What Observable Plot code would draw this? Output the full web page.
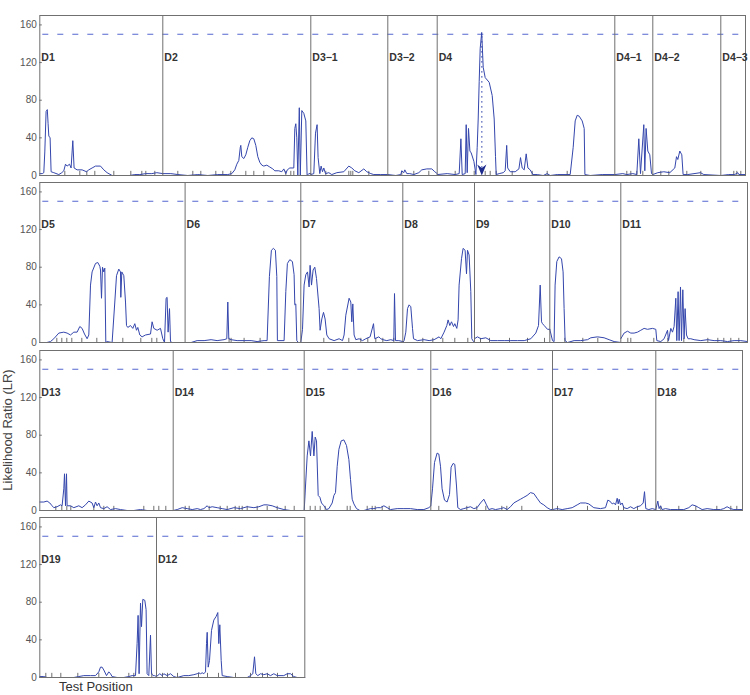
<!DOCTYPE html>
<html><head><meta charset="utf-8">
<script src="https://cdn.jsdelivr.net/npm/d3@7"></script>
<script src="https://cdn.jsdelivr.net/npm/@observablehq/plot@0.6"></script>
<style>
body{margin:0;background:#fff;font-family:"Liberation Sans",Arial,sans-serif;}
#wrap{position:relative;width:750px;height:695px;overflow:hidden;background:#fff;}
.row{position:absolute;left:0;}
.row svg{overflow:visible;}
#ylab{position:absolute;left:-92px;top:423px;width:200px;text-align:center;font-size:13px;line-height:14px;color:#444;transform:rotate(-90deg);transform-origin:100px 7px;}
#xlab{position:absolute;left:59px;top:680px;font-size:13px;line-height:14px;color:#333;}
</style></head><body>
<div id="wrap"><div id="ylab">Likelihood Ratio (LR)</div><div id="xlab">Test Position</div></div>
<script>
// ---------- DATA ----------
const yTicks = [0, 40, 80, 120, 160];
const threshold = 150;

const rowNames = [
  ["D1","D2","D3\u22121","D3\u22122","D4","D4\u22121","D4\u22122","D4\u22123"],
  ["D5","D6","D7","D8","D9","D10","D11"],
  ["D13","D14","D15","D16","D17","D18"],
  ["D19","D12"]
];
// chromosome lengths (test-position units)
const rowLengths = [
  [123,148,77,49.4,177.6,38,68,24.7],
  [145.3,115.7,102,71.7,75.3,71,126.7],
  [133.4,131,126.6,121.7,103.3,86.7],
  [116.7,148.3]
];

// LR profiles: [position within chromosome, LR]
const D1 = [[0,2],[2.5,2],[4,3],[5,25],[6.3,68],[7.5,70],[8.3,55],[9,42],[10.3,40],[11.3,4],[14,3],[19,1],[22,3],[24,5],[25.7,12],[27.3,10],[29.7,12],[31.3,8],[33,37],[34.3,8],[37.3,6],[42.3,6],[46.7,4],[49,6],[52.3,8],[55.7,10],[60.7,10],[64,6],[67.3,3],[72.3,0],[80,0],[90,0],[95,1],[100,1],[106,2],[112,2],[117,3],[123,2]];
const D2 = [[0,2],[8,2],[15,1],[25,0],[35,1],[45,0],[55,1],[65,1],[69,2],[72,6],[74,12],[76,16],[77.5,30],[78,32],[79,20],[81,18],[83,22],[85,30],[87,37],[89,40],[91,39],[93,32],[95,20],[97,14],[99,11],[101,10],[104,11],[107,9],[110,7],[112,5],[116,5],[119,4],[121,7],[123,2],[124.5,6],[127,8],[131,8],[132,50],[133,55],[134,40],[135,0],[136.5,72],[137.5,0],[139,69],[141,66],[143,58],[144.3,0],[146,2],[148,2]];
const D3_1 = [[0,1],[3,2],[4.7,45],[6.3,54],[7.3,19],[9,2],[10.3,10],[11.7,4],[13,8],[14.7,2],[18,3],[21,1],[26,3],[33,4],[38,10],[41,8],[44,5],[48,3],[53,7],[56,4],[60,2],[63,1],[70,1],[77,1]];
const D3_2 = [[0,1],[8,0],[13,1],[14,5],[16,3],[17,6],[19,2],[22,2],[26,1],[31,3],[34,6],[39,7],[44,7],[47,4],[49.4,2]];
const D4 = [[0,1],[10,2],[18,1],[22,2],[23.7,39],[25,1],[28,2],[29,54],[30,3],[31.3,50],[32.7,26],[34,24],[36.7,15],[38.7,1],[40,30],[41,60],[42,100],[43,135],[44.5,152],[46,115],[48,104],[52,99],[55,85],[57,60],[58.3,20],[59,1],[62,2],[66,3],[68,5],[69.5,32],[70.5,8],[73,4],[78,4],[81.7,7],[83.3,19],[85,8],[87,6],[89,23],[90.7,8],[93,6],[95.7,1],[100,1],[106,0],[110,2],[113,0],[120,1],[133,1],[136,30],[138,58],[140,64],[142,63],[145,58],[147,50],[147.7,1],[153,0],[165,1],[177.6,1]];
const D4_1 = [[0,1],[8,2],[12,1],[18,2],[22,1],[24,39],[25.7,2],[29,54],[30,5],[31.3,50],[33,26],[35,22],[36.7,2],[38,1]];
const D4_2 = [[0,1],[5,3],[11,4],[17,3],[22,8],[23.7,20],[25,17],[27,26],[29,22],[30.3,1],[35,1],[47.7,3],[51,1],[68,0]];
const D4_3 = [[0,0],[8,1],[14,1],[17,3],[18,1],[24.7,1]];

const D5 = [[0,0],[7,0],[10.7,1],[14,4],[19,10],[24,11],[27.3,10],[30.7,8],[34,11],[37.3,11],[40,17],[42.3,15],[44.7,9],[47.3,4],[49,8],[50.7,61],[52.3,75],[55.7,84],[58,85],[60,81],[60.7,77],[61.7,47],[62.7,80],[64,75],[65,79],[66,0],[67.3,1],[72.3,0],[75,43],[76.7,71],[79,78],[80.7,75],[81,48],[82,75],[84,71],[85.7,43],[86.7,18],[88,16],[90.7,18],[93,15],[95,20],[96.7,13],[98,16],[100,8],[102.3,6],[105.7,8],[110.7,9],[112.3,22],[114,15],[117.3,13],[120.7,15],[123,4],[124.7,0],[126.3,47],[127.3,48],[128.3,11],[129.7,36],[130.7,1],[132.3,0],[145.3,0]];
const D6 = [[0,0],[6,0],[12,2],[19,2],[26,3],[32,2],[39,3],[41.7,4],[42.7,43],[43.7,4],[46,3],[52,2],[59,2],[66,2],[72,1],[79,2],[82,2],[84.3,70],[86.3,98],[88.3,100],[90.3,98],[91.7,70],[92.3,2],[99,2],[100.7,54],[102.3,84],[104.7,88],[107.3,86],[109,72],[109.7,40],[110.7,41],[111.7,2],[113.3,0],[115.7,0]];
const D7 = [[0,0],[1.7,14],[3.3,61],[5,72],[6.7,75],[8.3,59],[9.3,82],[10.7,61],[12.3,77],[14,80],[15.7,68],[18.3,36],[19.3,13],[21,25],[22.7,32],[24.3,25],[26,8],[28.3,4],[33.3,2],[38.3,4],[41.7,2],[43.3,8],[45,29],[48.3,47],[50,43],[51,22],[52,41],[53.3,8],[55,3],[58.3,4],[61.7,2],[65,4],[69.3,6],[72.7,20],[74,4],[78,6],[80,4],[82,3],[86,2],[90,3],[93,2],[93.7,52],[94.7,2],[98,2],[102,1]];
const D8 = [[0,0],[1.3,2],[3,11],[4.7,36],[6.3,40],[8,38],[9.7,15],[10.7,4],[14.7,2],[21.3,3],[26.3,2],[31.3,3],[36.3,6],[38,4],[41.3,11],[44,18],[45.3,24],[47,18],[48.7,22],[50.7,17],[52,20],[54,15],[55.3,24],[56.3,61],[58.7,89],[60.3,100],[62.3,98],[63.7,73],[64.7,98],[66.3,93],[68,54],[69,4],[70.7,1],[71.7,0]];
const D9 = [[0,4],[3,6],[6.3,4],[11.3,5],[16.3,2],[23,2],[29.7,2],[36.3,2],[43,2],[49.7,2],[56.3,4],[61.3,10],[64,18],[65.7,61],[67,22],[68,20],[69.7,18],[73,14],[75.3,14]];
const D10 = [[0,14],[2.7,2],[4.3,1],[5.3,61],[7,86],[9.3,91],[11.7,89],[13.3,75],[14.3,36],[15.3,2],[17.7,0],[24.3,2],[31,2],[37.7,3],[41,5],[47.7,6],[54.3,5],[59.3,3],[64.3,1],[71,0]];
const D11 = [[0,4],[3.3,10],[6.7,12],[10,10],[13.3,10],[16.7,11],[20,13],[23.3,15],[26.7,14],[31.7,15],[35,14],[36,2],[40,1],[43.3,4],[46.7,13],[47.7,2],[50,15],[51.7,11],[53.3,17],[55,47],[56,2],[57.3,54],[58.3,2],[59.7,59],[60.7,2],[62,56],[63.3,4],[64.3,36],[65.7,8],[67.3,4],[70,4],[73.3,3],[80,2],[86.7,3],[93.3,2],[100,2],[106.7,1],[113.3,2],[120,2],[126.7,1]];

const D13 = [[0,9],[4,9],[7.3,10],[10,8],[12.3,5],[14,3],[17.3,4],[20.7,6],[22.3,5],[24,23],[24.7,39],[25.7,5],[26.7,39],[27.3,5],[30.7,5],[34,3],[39,5],[42.3,3],[45.7,6],[49,10],[52.3,8],[54,3],[55.7,9],[57.3,5],[59,8],[60.7,3],[64,2],[67.3,4],[70.7,1],[75.7,2],[80.7,1],[87.3,0],[94,0],[100.7,1],[107.3,0],[120.7,0],[133.4,0]];
const D14 = [[0,0],[4,1],[9,3],[14,2],[19,1],[24,2],[27.3,1],[30.7,2],[34,5],[35.7,3],[39,4],[44,3],[49,2],[54,1],[60.7,3],[67.3,2],[74,4],[80.7,3],[85.7,4],[90.7,6],[94,6],[99,5],[104,3],[110.7,1],[117.3,0],[122.3,0],[131,0]];
const D15 = [[0,0],[1.3,26],[3,58],[4.7,74],[6.3,58],[8,84],[9.7,58],[11,78],[12.3,74],[14,16],[15.7,14],[17.3,8],[19.7,5],[22.3,1],[24.7,2],[28,8],[29.7,16],[31.3,19],[33,47],[34.7,65],[37,74],[39.7,75],[42.3,69],[44.7,54],[46.3,33],[48,12],[49.7,7],[52.3,2],[55.7,0],[59.7,0],[63,1],[66.3,2],[69.7,2],[73,3],[76.3,3],[79.7,5],[83,3],[86.3,1],[93,2],[99.7,2],[106.3,2],[113,1],[119.7,1],[124.7,3],[126.6,5]];
const D16 = [[0,5],[1.7,23],[3.7,51],[6.3,61],[8,60],[9.7,47],[11.3,23],[13.7,11],[16.3,9],[18.7,17],[20.3,46],[22.3,50],[24,49],[25.7,26],[27,3],[29.7,1],[33,2],[36.3,3],[39.7,4],[43,2],[46.3,3],[49.7,8],[53,12],[55.7,6],[58,1],[61.3,2],[64.7,1],[69.7,2],[73,3],[76.3,1],[79.7,4],[83,8],[86.3,10],[89.7,12],[93,14],[96.3,16],[99.7,19],[103,18],[106.3,13],[109.7,8],[113,6],[116.3,3],[119.7,1],[121.7,1]];
const D17 = [[0,1],[4.7,2],[9.7,1],[14.7,2],[19.7,3],[24.7,6],[28,8],[33,8],[36.3,7],[41.3,3],[48,2],[53,3],[55.3,11],[57.3,10],[59.7,7],[61.3,8],[63,6],[64.7,13],[65.7,7],[66.7,12],[68,6],[69.7,8],[71.3,3],[74.7,2],[78,4],[81.3,2],[84.7,4],[88,5],[90.7,8],[92,20],[93.3,2],[96.3,1],[99.7,2],[103.3,1]];
const D18 = [[0,1],[2,10],[3.3,2],[4.7,5],[6.3,1],[9.7,2],[14.7,1],[21.3,1],[28,1],[33,3],[36.3,6],[39.7,5],[43,3],[46.3,1],[51.3,2],[58,1],[64.7,1],[68,2],[71.3,4],[74.7,2],[78,1],[81.3,1],[86.7,1]];

const D19 = [[0,1],[4,1],[7.3,0],[14,0],[20.7,0],[27.3,0],[34,0],[39,1],[44,2],[50.7,2],[55.7,2],[59,6],[60.7,11],[62.3,11],[64,8],[66.7,2],[69,6],[70.7,4],[72.3,1],[77.3,0],[84,0],[89,1],[92.3,2],[95.7,2],[97.3,36],[98.3,66],[99.3,4],[100.7,79],[101.7,54],[103,83],[105,82],[106.3,72],[107.3,4],[109,2],[110.7,45],[111.7,4],[113.3,2],[114.7,2],[116.7,1]];
const D12 = [[0,1],[3.3,4],[5.7,2],[7.3,4],[10.7,2],[14,4],[17.3,1],[20.7,0],[27.3,2],[32.3,2],[37.3,3],[40.7,4],[42.3,5],[44,4],[45.7,5],[47.3,4],[49,6],[50,36],[50.7,48],[51.7,11],[53,18],[55,50],[57.3,61],[59.7,65],[61.3,69],[62.3,36],[63.3,56],[64.7,18],[65.7,2],[70.7,1],[77.3,0],[84,0],[90.7,0],[94,2],[96.3,4],[98,22],[99.3,4],[101.3,2],[104,4],[107.3,3],[110.7,4],[114,2],[117.3,4],[120.7,2],[127.3,2],[130.7,4],[134,4],[137.3,1],[140.7,0],[148.3,0]];

const rowProfiles = [
  [D1, D2, D3_1, D3_2, D4, D4_1, D4_2, D4_3],
  [D5, D6, D7, D8, D9, D10, D11],
  [D13, D14, D15, D16, D17, D18],
  [D19, D12]
];

// marker (test position) ticks along the baseline
const rowMarkers = [
  [[25,40,47,55,74,91,102,106,115],[15,30,38,53,60,68,83,91,101,123,128,131],[15,38,40,42,58],[14,26,41],[18,37,48,53,59,75,95,110,130],[12,16,22,28],[8,16,34,48],[13,16,20]],
  [[17,22,27,32,42,57,83,101,112,117],[44,46,59,75],[23,48,60,67,75,82,93],[20,30,40,52,65],[6,15,35,53,70],[15,33,48],[7,10,33,47,63,87,97,103,110,118]],
  [[16,22,27,31,54,64,74,104,114,119,126],[12,16,36,47,54,62,66,69,74,84,94,104,112,121],[6,11,16,21,43,46,63,68,71,78,85],[8,36,46,55,71,76,91],[5,35,66,71,85],[5,23,40,61,75,81]],
  [[6,12,21,38,59,89,94,112],[6,11,21,42,51,62,79,94,106,111,121,131,136]]
];

// highlighted peak (dotted line + arrow)
const peakChrom = "D4";
const peakPos = 44.6;
const peakLR = 150;

// ---------- LAYOUT / DRAW ----------
const FRAME_LEFT = 39.3;
const rowTops = [14.5, 182.3, 349.7, 517.3];
const PLOT_H = 160, MT = 8, MB = 8;
const lineColor = "#3446ac";
const frameColor = "#707070";

const arrowSymbol = {
  draw(ctx, size) {
    ctx.moveTo(0, 0);
    ctx.lineTo(-4.6, -11);
    ctx.lineTo(0, -7.5);
    ctx.lineTo(4.6, -11);
    ctx.closePath();
  }
};

const wrap = document.getElementById("wrap");

rowNames.forEach((names, r) => {
  const lens = rowLengths[r];
  const starts = [];
  let acc = 0;
  lens.forEach(l => { starts.push(acc); acc += l; });
  const total = acc;
  const lineData = [], markerData = [], labelData = [], peakData = [];
  names.forEach((n, i) => {
    rowProfiles[r][i].forEach(([p, v]) => lineData.push({chrom: n, gx: starts[i] + p, lr: v}));
    rowMarkers[r][i].forEach(p => markerData.push({gx: starts[i] + p}));
    labelData.push({name: n, gx: starts[i]});
    if (n === peakChrom) peakData.push({gx: starts[i] + peakPos, lr: peakLR});
  });

  const marks = [
    Plot.ruleY([threshold], {stroke: "#5567d0", strokeWidth: 1.1, strokeDasharray: "6,9", strokeDashoffset: 12}),
    Plot.ruleX(markerData, {x: "gx", y1: 0, y2: 4.4, stroke: "#4a4a4a", strokeWidth: 0.8}),
    Plot.ruleX(peakData, {x: "gx", y1: 8, y2: "lr", stroke: lineColor, strokeWidth: 1.3, strokeDasharray: "1.3,3.7"}),
    Plot.line(lineData, {x: "gx", y: "lr", z: "chrom", stroke: lineColor, strokeWidth: 1}),
    Plot.dot(peakData, {x: "gx", y: 0, symbol: arrowSymbol, r: 5, fill: "#1d2b8c", stroke: "none"}),
    Plot.ruleX(labelData.slice(1), {x: "gx", stroke: frameColor, strokeWidth: 1}),
    Plot.frame({stroke: frameColor, strokeWidth: 1}),
    Plot.ruleY(yTicks, {x1: 0, x2: 2.5, stroke: frameColor}),
    Plot.text(labelData, {x: "gx", y: 125, text: "name", textAnchor: "start", dx: 1.5, fontWeight: "bold", fontSize: 10.5, fill: "#333"}),
    Plot.axisY({ticks: yTicks, tickSize: 0, tickPadding: 3, fontSize: 10, color: "#555", label: null})
  ];

  const chart = Plot.plot({
    width: 750,
    height: PLOT_H + MT + MB,
    marginLeft: FRAME_LEFT,
    marginRight: 750 - FRAME_LEFT - total,
    marginTop: MT,
    marginBottom: MB,
    style: {background: "transparent", overflow: "visible", fontFamily: "'Liberation Sans', Arial, sans-serif"},
    x: {domain: [0, total], axis: null},
    y: {domain: [0, 170], axis: null},
    marks
  });
  const div = document.createElement("div");
  div.className = "row";
  div.style.top = (rowTops[r] - MT) + "px";
  div.appendChild(chart);
  wrap.appendChild(div);
});
</script>
</body></html>
